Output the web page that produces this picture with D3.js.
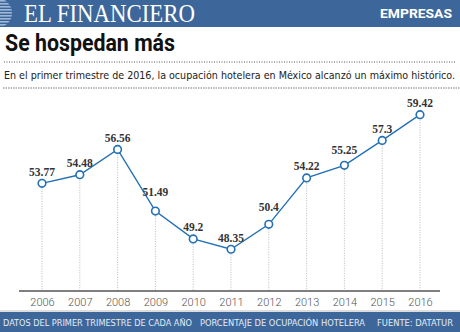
<!DOCTYPE html>
<html>
<head>
<meta charset="utf-8">
<script src="https://cdn.jsdelivr.net/npm/d3@7"></script>
<style>
  html, body { margin: 0; padding: 0; background: #fff; }
  svg { display: block; }
</style>
</head>
<body>
<div id="chart"></div>
<script>
// ocupacion hotelera, primer trimestre de cada año (porcentaje)
var years = [2006, 2007, 2008, 2009, 2010, 2011, 2012, 2013, 2014, 2015, 2016];
var occupancy = [53.77, 54.48, 56.56, 51.49, 49.2, 48.35, 50.4, 54.22, 55.25, 57.3, 59.42];
var valueLabels = ['53.77', '54.48', '56.56', '51.49', '49.2', '48.35', '50.4', '54.22', '55.25', '57.3', '59.42'];
var footerNotes = ['DATOS DEL PRIMER TRIMESTRE DE CADA AÑO', 'PORCENTAJE DE OCUPACIÓN HOTELERA', 'FUENTE: DATATUR'];

var width = 460, height = 332;
var blue = '#3d679b', lineBlue = '#2370b4';
var narrow = '"Liberation Sans Narrow", "DejaVu Sans Condensed", Roboto, sans-serif';

var svg = d3.select('#chart').append('svg')
    .attr('width', width)
    .attr('height', height);

// shrink a text's font size until it naturally fills the wanted width
function fitText(sel, w) {
    var node = sel.node();
    var fs = +sel.attr('font-size');
    var len = node.getComputedTextLength();
    if (len > 0) {
        sel.attr('font-size', Math.min(fs, fs * w / len));
    }
    sel.attr('textLength', w).attr('lengthAdjust', 'spacingAndGlyphs');
    return sel;
}

// --- cabecera
svg.append('rect').attr('x', 0).attr('y', 0).attr('width', width).attr('height', 27).attr('fill', blue);

// little globe thing at the left edge of the masthead
var globe = svg.append('g');
globe.append('clipPath').attr('id', 'globeClip')
    .append('circle').attr('cx', -3).attr('cy', 13).attr('r', 15);
d3.range(0, 27, 3).forEach(function (y) {
    globe.append('rect')
        .attr('x', -20).attr('y', y).attr('width', 40).attr('height', 1.6)
        .attr('fill', '#9fb6d6')
        .attr('clip-path', 'url(#globeClip)');
});

svg.append('text')
    .attr('x', 24).attr('y', 22)
    .attr('font-family', '"Liberation Serif", "DejaVu Serif", serif')
    .attr('font-size', 25)
    .attr('fill', '#fff')
    .attr('textLength', 171)
    .attr('lengthAdjust', 'spacingAndGlyphs')
    .text('EL FINANCIERO');

svg.append('text')
    .attr('x', 452).attr('y', 18)
    .attr('text-anchor', 'end')
    .attr('font-family', 'Roboto, "Open Sans", sans-serif')
    .attr('font-weight', 700)
    .attr('font-size', 13)
    .attr('fill', '#fff')
    .attr('textLength', 72)
    .attr('lengthAdjust', 'spacingAndGlyphs')
    .text('EMPRESAS');

// --- titulo y subtitulo
svg.append('text')
    .attr('x', 5).attr('y', 51)
    .attr('font-family', 'Roboto, "Liberation Sans", sans-serif')
    .attr('font-weight', 700)
    .attr('font-size', 24)
    .attr('fill', '#111')
    .attr('textLength', 170)
    .attr('lengthAdjust', 'spacingAndGlyphs')
    .text('Se hospedan más');

svg.append('line')
    .attr('x1', 4).attr('x2', 455).attr('y1', 62).attr('y2', 62)
    .attr('stroke', '#555').attr('stroke-width', 1)
    .attr('stroke-dasharray', '1,1.5');

var sub = svg.append('text')
    .attr('x', 4).attr('y', 79)
    .attr('font-family', narrow)
    .attr('font-size', 13)
    .attr('fill', '#222')
    .text('En el primer trimestre de 2016, la ocupación hotelera en México alcanzó un máximo histórico.');
fitText(sub, 451);

svg.append('line')
    .attr('x1', 3).attr('x2', width).attr('y1', 88).attr('y2', 88)
    .attr('stroke', '#bbb').attr('stroke-width', 2)
    .attr('stroke-dasharray', '1.5,1');

// --- grafica
var x = d3.scalePoint().domain(years).range([42, 420]);
var y = d3.scaleLinear().domain([45, 60]).range([290, 107.6]);
var baseY = 291;

var pts = years.map(function (yr, i) {
    return { year: yr, value: occupancy[i], label: valueLabels[i] };
});

// dotted drop lines from each point to the axis
svg.append('g').selectAll('line')
    .data(pts)
    .enter().append('line')
    .attr('x1', function (d) { return x(d.year) })
    .attr('x2', function (d) { return x(d.year) })
    .attr('y1', function (d) { return y(d.value) })
    .attr('y2', baseY)
    .attr('stroke', '#aaa')
    .attr('stroke-width', 0.8)
    .attr('stroke-dasharray', '1,1.5');

// eje
svg.append('line')
    .attr('x1', 19).attr('x2', 440).attr('y1', baseY).attr('y2', baseY)
    .attr('stroke', '#7f7f7f').attr('stroke-width', 2);

var xAxis = d3.axisBottom(x).tickSize(0).tickPadding(0);
var gx = svg.append('g')
    .attr('transform', 'translate(0,' + (baseY + 15) + ')')
    .call(xAxis);
gx.select('.domain').remove();
gx.selectAll('text')
    .attr('dy', 0)
    .attr('font-family', 'Roboto, "Liberation Sans", sans-serif')
    .attr('font-weight', 300)
    .attr('font-size', 11)
    .attr('fill', '#555');

var line = d3.line()
    .x(function (d) { return x(d.year) })
    .y(function (d) { return y(d.value) });

svg.append('path')
    .datum(pts)
    .attr('d', line)
    .attr('fill', 'none')
    .attr('stroke', lineBlue)
    .attr('stroke-width', 1.4);

svg.append('g').selectAll('circle')
    .data(pts)
    .enter().append('circle')
    .attr('cx', function (d) { return x(d.year) })
    .attr('cy', function (d) { return y(d.value) })
    .attr('r', 3.8)
    .attr('fill', '#fff')
    .attr('stroke', lineBlue)
    .attr('stroke-width', 1.6);

// a few labels sit higher so they clear the line
var labelNudge = { 2009: -8, 2012: -6, 2014: -4 };
svg.append('g').selectAll('text')
    .data(pts)
    .enter().append('text')
    .attr('x', function (d) { return x(d.year) })
    .attr('y', function (d) { return y(d.value) - 7.5 + (labelNudge[d.year] || 0) })
    .attr('text-anchor', 'middle')
    .attr('font-family', '"Liberation Serif", "DejaVu Serif", serif')
    .attr('font-weight', 700)
    .attr('font-size', 11.5)
    .attr('fill', '#333')
    .text(function (d) { return d.label });

// --- pie
svg.append('rect').attr('x', 0).attr('y', 310).attr('width', width).attr('height', 2).attr('fill', '#ddd');
svg.append('rect').attr('x', 0).attr('y', 312).attr('width', width).attr('height', 20).attr('fill', blue);

var footerX = [3, 200, 377], footerW = [189, 165, 76];
footerNotes.forEach(function (t, i) {
    var ft = svg.append('text')
        .attr('x', footerX[i]).attr('y', 326)
        .attr('font-family', narrow)
        .attr('font-size', 11)
        .attr('fill', '#e4ebf4')
        .text(t);
    fitText(ft, footerW[i]);
});
</script>
</body>
</html>
